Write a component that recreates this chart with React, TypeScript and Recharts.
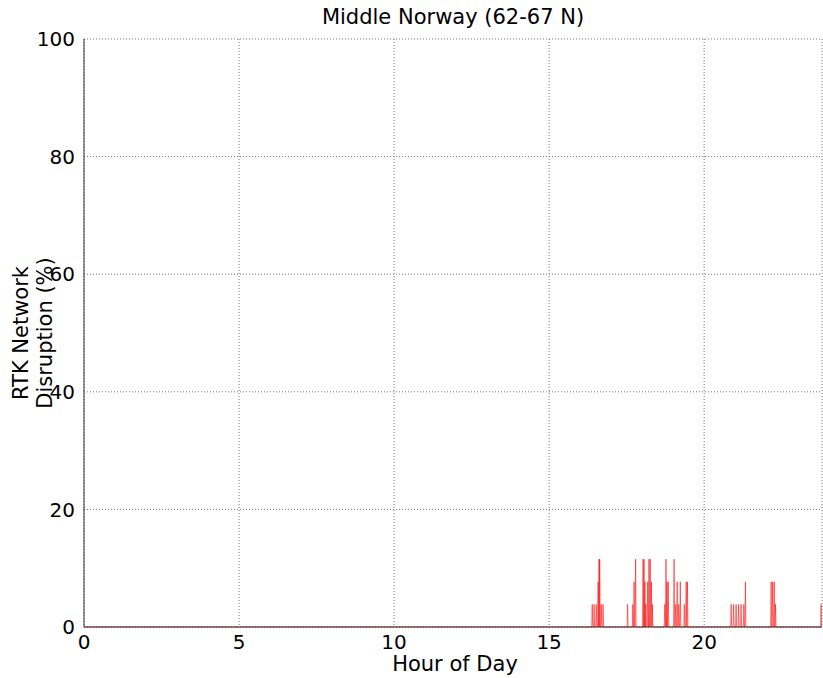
import { CartesianGrid, Line, LineChart, XAxis, YAxis } from "recharts"

// Disruption spikes: hour of day and share of stations affected (%)
const spikeHours = [
  16.39, 16.45, 16.52, 16.58, 16.61, 16.63, 16.68, 16.74,
  17.53, 17.7, 17.74, 17.79,
  18.03, 18.06, 18.09, 18.12, 18.18, 18.22, 18.26, 18.3, 18.33,
  18.73, 18.77, 18.8, 18.84,
  19.03, 19.08, 19.13, 19.18, 19.23, 19.36, 19.42, 19.46,
  20.87, 20.95, 21.03, 21.11, 21.19, 21.28, 21.33,
  22.16, 22.21, 22.26, 22.3,
  23.77,
]
const spikeValues = [
  3.85, 3.85, 3.85, 7.69, 11.54, 11.54, 3.85, 3.85,
  3.85, 3.85, 7.69, 11.54,
  11.54, 11.54, 7.69, 3.85, 7.69, 11.54, 11.54, 7.69, 3.85,
  3.85, 11.54, 7.69, 7.69,
  11.54, 3.85, 7.69, 3.85, 7.69, 3.85, 7.69, 7.69,
  3.85, 3.85, 3.85, 3.85, 3.85, 3.85, 7.69,
  7.69, 7.69, 7.69, 3.85,
  3.85,
]
const xTicks = [0, 5, 10, 15, 20]
const yTicks = [0, 20, 40, 60, 80, 100]
const xMax = 23.8

// one-minute samples either side of each spike sit at zero
const minute = 1 / 60
const data = [{ hour: 0, pct: 0 }]
spikeHours.forEach((h, i) => {
  data.push({ hour: h - minute, pct: 0 })
  data.push({ hour: h, pct: spikeValues[i] })
  data.push({ hour: h + minute, pct: 0 })
})
data.sort((a, b) => a.hour - b.hour)

const font = "'DejaVu Sans', sans-serif"

export default function App() {
  return (
    <div style={{ position: "absolute", left: 0, top: 0, width: 823, height: 678, background: "#fff" }}>
      <div
        style={{
          position: "absolute",
          top: 5,
          left: 84,
          width: 738,
          textAlign: "center",
          fontFamily: font,
          fontSize: 21,
          color: "#000",
        }}
      >
        Middle Norway (62-67 N)
      </div>
      <LineChart width={823} height={678} data={data} margin={{ top: 39, right: 1, left: 0, bottom: 0 }}>
        <CartesianGrid stroke="#777" strokeDasharray="1 2" />
        <XAxis
          dataKey="hour"
          type="number"
          domain={[0, xMax]}
          ticks={xTicks}
          allowDataOverflow
          height={51}
          stroke="#333"
          tickLine={false}
          tick={{ fontSize: 20, fill: "#000", fontFamily: font }}
          tickMargin={2}
          label={{
            content: () => (
              <text x={455} y={671} textAnchor="middle" fontFamily={font} fontSize={21} fill="#000">
                Hour of Day
              </text>
            ),
          }}
        />
        <XAxis xAxisId="top" orientation="top" type="number" domain={[0, xMax]} height={0} tick={false} tickLine={false} stroke="#333" />
        <YAxis
          domain={[0, 100]}
          ticks={yTicks}
          width={84}
          stroke="#333"
          tickLine={false}
          tickMargin={3}
          tick={{ fontSize: 20, fill: "#000", fontFamily: font }}
          label={{
            content: () => (
              <g transform="translate(0,333) rotate(-90)" fontFamily={font} fontSize={21} fill="#000">
                <text x={0} y={28} textAnchor="middle">RTK Network</text>
                <text x={0} y={52} textAnchor="middle">Disruption (%)</text>
              </g>
            ),
          }}
        />
        <YAxis yAxisId="right" orientation="right" domain={[0, 100]} width={0} tick={false} tickLine={false} stroke="#333" />
        <Line
          type="linear"
          dataKey="pct"
          stroke="#ff0000"
          strokeOpacity={0.55}
          strokeWidth={1}
          dot={false}
          isAnimationActive={false}
        />
      </LineChart>
    </div>
  )
}
